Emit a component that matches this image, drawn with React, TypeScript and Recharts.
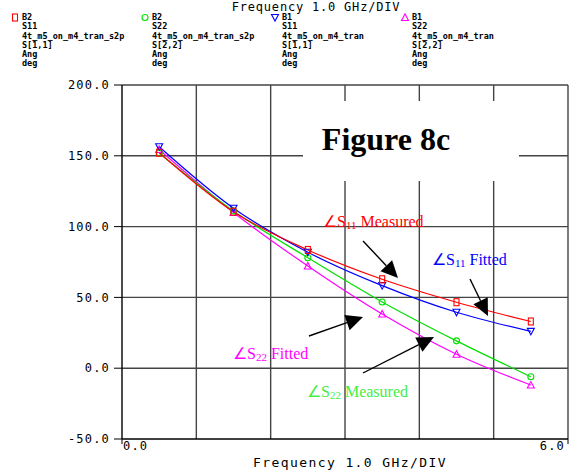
import React from "react";
import { LineChart, Line, XAxis, YAxis, ReferenceLine } from "recharts";

// frequency (GHz) of each marker
const FREQS = [0.5, 1.5, 2.5, 3.5, 4.5, 5.5];
// phase angles, deg
const S11_MEASURED = [152.2, 110.5, 83.5, 62.8, 46.6, 33.0];
const S11_FITTED = [156.4, 113.0, 81.9, 58.3, 39.5, 26.0];
const S22_MEASURED = [152.0, 111.0, 78.0, 46.8, 19.3, -6.0];
const S22_FITTED = [154.5, 110.0, 72.2, 38.3, 9.9, -11.9];

const X_TICKS = [0, 6];
const Y_TICKS = [-50, 0, 50, 100, 150, 200];
const X_GRID = [1, 2, 3, 4, 5, 6];
const Y_GRID = [0, 50, 100, 150, 200];

const LEGEND = [
  { color: "#ff0000", shape: "square", lines: ["B2", "S11", "4t_m5_on_m4_tran_s2p", "S[1,1]", "Ang", "deg"] },
  { color: "#00e000", shape: "circle", lines: ["B2", "S22", "4t_m5_on_m4_tran_s2p", "S[2,2]", "Ang", "deg"] },
  { color: "#0000ff", shape: "down", lines: ["B1", "S11", "4t_m5_on_m4_tran", "S[1,1]", "Ang", "deg"] },
  { color: "#ff00ff", shape: "up", lines: ["B1", "S22", "4t_m5_on_m4_tran", "S[2,2]", "Ang", "deg"] },
];

const MONO = "'DejaVu Sans Mono', 'Liberation Mono', monospace";
const SERIF = "'Liberation Serif', 'Times New Roman', serif";
const GRID = "#444";

const data = FREQS.map((f, i) => ({
  f,
  s11m: S11_MEASURED[i],
  s11f: S11_FITTED[i],
  s22m: S22_MEASURED[i],
  s22f: S22_FITTED[i],
}));

function Marker({ shape, color, cx, cy }: { shape: string; color: string; cx: number; cy: number }) {
  if (cx == null || cy == null) return null;
  const common = { fill: "none", stroke: color, strokeWidth: 1.1 };
  if (shape === "square") return <rect x={cx - 2.5} y={cy - 3.5} width={5} height={7} {...common} />;
  if (shape === "circle") return <circle cx={cx} cy={cy} r={3} {...common} />;
  if (shape === "down")
    return <polygon points={`${cx - 3.5},${cy - 3} ${cx + 3.5},${cy - 3} ${cx},${cy + 3.5}`} {...common} />;
  return <polygon points={`${cx - 3.5},${cy + 3} ${cx + 3.5},${cy + 3} ${cx},${cy - 3.5}`} {...common} />;
}

const dotFor = (shape: string, color: string) => (p: any) =>
  <Marker key={`${shape}-${p.index}`} shape={shape} color={color} cx={p.cx} cy={p.cy} />;

function XTick({ x, y, payload }: any) {
  const v = payload.value;
  return (
    <text
      x={v === 0 ? x + 1 : x - 1}
      y={y + 4}
      textAnchor={v === 0 ? "start" : "end"}
      fontFamily={MONO}
      fontSize={12}
      letterSpacing={1.2}
      fill="#000"
    >
      {v.toFixed(1)}
    </text>
  );
}

// arrow with filled triangular head, from (x1,y1) to tip (x2,y2)
function Arrow({ x1, y1, x2, y2 }: { x1: number; y1: number; x2: number; y2: number }) {
  const dx = x2 - x1;
  const dy = y2 - y1;
  const len = Math.hypot(dx, dy);
  const ux = dx / len;
  const uy = dy / len;
  const hl = 17;
  const hw = 8;
  const bx = x2 - ux * hl;
  const by = y2 - uy * hl;
  return (
    <g>
      <line x1={x1} y1={y1} x2={bx} y2={by} stroke="#000" strokeWidth={1.4} />
      <polygon
        points={`${x2},${y2} ${bx - uy * hw},${by + ux * hw} ${bx + uy * hw},${by - ux * hw}`}
        fill="#000"
      />
    </g>
  );
}

function Label({ left, top, color, sub, word }: { left: number; top: number; color: string; sub: string; word: string }) {
  return (
    <div
      style={{
        position: "absolute",
        left,
        top,
        color,
        fontFamily: SERIF,
        fontSize: 16,
        lineHeight: "18px",
        whiteSpace: "nowrap",
      }}
    >
      ∠S<span style={{ fontSize: 11, position: "relative", top: 2 }}>{sub}</span> {word}
    </div>
  );
}

export default function App() {
  return (
    <div style={{ position: "absolute", left: 0, top: 0, width: 570, height: 470, background: "#fff" }}>
      {/* header */}
      <div
        style={{
          position: "absolute",
          left: 0,
          width: 632,
          top: 1,
          textAlign: "center",
          fontFamily: MONO,
          fontSize: 12,
          letterSpacing: 0.8,
          lineHeight: "12px",
        }}
      >
        Frequency 1.0 GHz/DIV
      </div>
      {LEGEND.map((l, i) => (
        <div key={i} style={{ position: "absolute", left: 8 + i * 130, top: 13 }}>
          <svg width={12} height={12} style={{ position: "absolute", left: 0, top: -1 }}>
            <Marker shape={l.shape} color={l.color} cx={7} cy={5.5} />
          </svg>
          <div
            style={{
              position: "absolute",
              left: 14,
              top: 0,
              fontFamily: MONO,
              fontSize: 8.5,
              lineHeight: "9.3px",
              fontWeight: "bold",
              whiteSpace: "pre",
              color: "#000",
            }}
          >
            {l.lines.join("\n")}
          </div>
        </div>
      ))}

      <LineChart width={570} height={470} data={data} margin={{ top: 85, right: 2, bottom: 0, left: 0 }}>
        {X_GRID.map((v) => (
          <ReferenceLine key={`x${v}`} x={v} stroke={GRID} strokeWidth={1.4} />
        ))}
        {Y_GRID.map((v) => (
          <ReferenceLine key={`y${v}`} y={v} stroke={GRID} strokeWidth={1.4} />
        ))}
        <XAxis
          dataKey="f"
          type="number"
          domain={[0, 6]}
          ticks={X_TICKS}
          height={31}
          axisLine={{ stroke: "#000", strokeWidth: 1.4 }}
          tickLine={{ stroke: "#000" }}
          tickSize={5}
          tick={<XTick />}
        />
        <YAxis
          type="number"
          domain={[-50, 200]}
          ticks={Y_TICKS}
          width={122}
          interval={0}
          axisLine={{ stroke: "#000", strokeWidth: 1.4 }}
          tickLine={{ stroke: "#000" }}
          tickSize={8}
          tickMargin={4}
          tickFormatter={(v: number) => v.toFixed(1)}
          tick={{ fill: "#000", fontFamily: MONO, fontSize: 12, letterSpacing: 1.2 }}
        />
        <Line type="monotone" dataKey="s22f" stroke="#ff00ff" strokeWidth={1.2} dot={dotFor("up", "#ff00ff")} isAnimationActive={false} />
        <Line type="monotone" dataKey="s22m" stroke="#00e000" strokeWidth={1.2} dot={dotFor("circle", "#00e000")} isAnimationActive={false} />
        <Line type="monotone" dataKey="s11f" stroke="#0000ff" strokeWidth={1.2} dot={dotFor("down", "#0000ff")} isAnimationActive={false} />
        <Line type="monotone" dataKey="s11m" stroke="#ff0000" strokeWidth={1.2} dot={dotFor("square", "#ff0000")} isAnimationActive={false} />
      </LineChart>

      {/* annotations */}
      <svg width={570} height={470} style={{ position: "absolute", left: 0, top: 0, pointerEvents: "none" }}>
        <rect x={303} y={101} width={216} height={80} fill="#fff" />
        <text x={386} y={150} textAnchor="middle" fontFamily={SERIF} fontWeight="bold" fontSize={32} fill="#000">
          Figure 8c
        </text>
        <Arrow x1={363} y1={241} x2={398} y2={278} />
        <Arrow x1={470} y1={279} x2={488} y2={316} />
        <Arrow x1={309} y1={336} x2={363} y2={317} />
        <Arrow x1={363} y1={373} x2={434} y2={337} />
      </svg>
      <Label left={323} top={213} color="#ff0000" sub="11" word="Measured" />
      <Label left={432} top={251} color="#0000ff" sub="11" word="Fitted" />
      <Label left={233} top={345} color="#ff00ff" sub="22" word="Fitted" />
      <Label left={307} top={383} color="#44ee44" sub="22" word="Measured" />

      <div
        style={{
          position: "absolute",
          left: 0,
          width: 700,
          top: 455,
          textAlign: "center",
          fontFamily: MONO,
          fontSize: 13,
          letterSpacing: 1.4,
          lineHeight: "16px",
        }}
      >
        Frequency 1.0 GHz/DIV
      </div>
    </div>
  );
}
